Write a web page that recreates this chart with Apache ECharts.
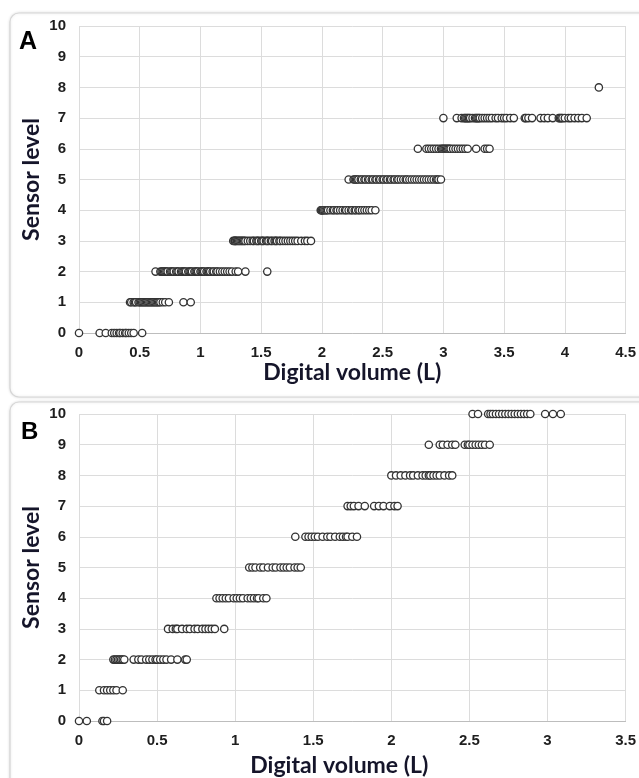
<!DOCTYPE html>
<html><head><meta charset="utf-8">
<script src="https://cdn.jsdelivr.net/npm/echarts@6/dist/echarts.min.js"></script>
<style>html,body{margin:0;padding:0;background:#fff}#c{width:639px;height:778px}</style>
</head><body><div id="c"></div>
<script>
// Panel A: digital volume (L) per sensor level
const a0 = [0, 0.17, 0.22, 0.27, 0.29, 0.31, 0.33, 0.34, 0.36, 0.38, 0.39, 0.41, 0.43, 0.45, 0.52];
const a1 = [0.42, 0.43, 0.45, 0.46, 0.47, 0.49, 0.50, 0.51, 0.52, 0.53, 0.54, 0.55, 0.56, 0.57, 0.58, 0.59, 0.60, 0.61, 0.62, 0.63, 0.64, 0.65, 0.66, 0.67, 0.69, 0.71, 0.74, 0.86, 0.92];
const a2 = [0.63, 0.67, 0.68, 0.69, 0.70, 0.71, 0.72, 0.73, 0.75, 0.76, 0.77, 0.78, 0.80, 0.81, 0.82, 0.84, 0.85, 0.86, 0.87, 0.88, 0.90, 0.91, 0.92, 0.93, 0.95, 0.96, 0.97, 0.98, 1.00, 1.01, 1.02, 1.03, 1.05, 1.06, 1.07, 1.08, 1.10, 1.11, 1.13, 1.14, 1.16, 1.18, 1.20, 1.22, 1.24, 1.26, 1.29, 1.31, 1.37, 1.55];
const a3 = [1.27, 1.28, 1.285, 1.29, 1.30, 1.31, 1.32, 1.33, 1.34, 1.35, 1.36, 1.37, 1.39, 1.41, 1.43, 1.44, 1.46, 1.47, 1.48, 1.50, 1.51, 1.52, 1.54, 1.55, 1.56, 1.58, 1.59, 1.61, 1.62, 1.63, 1.65, 1.66, 1.68, 1.70, 1.72, 1.74, 1.76, 1.78, 1.80, 1.83, 1.86, 1.88, 1.91];
const a4 = [1.99, 1.995, 2.00, 2.005, 2.01, 2.02, 2.03, 2.04, 2.05, 2.07, 2.09, 2.10, 2.12, 2.13, 2.15, 2.17, 2.19, 2.20, 2.22, 2.24, 2.25, 2.27, 2.28, 2.30, 2.31, 2.33, 2.35, 2.37, 2.39, 2.41, 2.44];
const a5 = [2.22, 2.26, 2.27, 2.28, 2.29, 2.30, 2.32, 2.33, 2.35, 2.36, 2.38, 2.39, 2.41, 2.42, 2.44, 2.45, 2.47, 2.48, 2.50, 2.51, 2.53, 2.54, 2.56, 2.57, 2.59, 2.60, 2.62, 2.63, 2.65, 2.67, 2.69, 2.70, 2.72, 2.74, 2.76, 2.78, 2.80, 2.82, 2.84, 2.86, 2.88, 2.90, 2.92, 2.94, 2.95, 2.96, 2.98];
const a6 = [2.79, 2.86, 2.88, 2.90, 2.92, 2.94, 2.96, 2.98, 2.99, 3.00, 3.01, 3.02, 3.03, 3.04, 3.05, 3.06, 3.08, 3.10, 3.12, 3.14, 3.16, 3.18, 3.20, 3.27, 3.34, 3.36, 3.38];
const a7 = [3.00, 3.11, 3.15, 3.17, 3.18, 3.19, 3.20, 3.21, 3.22, 3.24, 3.26, 3.27, 3.28, 3.29, 3.30, 3.32, 3.34, 3.36, 3.38, 3.40, 3.43, 3.45, 3.48, 3.50, 3.52, 3.55, 3.58, 3.67, 3.68, 3.70, 3.73, 3.80, 3.83, 3.86, 3.90, 3.95, 3.96, 3.97, 3.98, 4.00, 4.03, 4.05, 4.08, 4.11, 4.14, 4.18];
const a8 = [4.28];

// Panel B
const b0 = [0, 0.05, 0.15, 0.16, 0.18];
const b1 = [0.13, 0.16, 0.18, 0.20, 0.22, 0.24, 0.28];
const b2 = [0.22, 0.23, 0.24, 0.25, 0.26, 0.27, 0.28, 0.29, 0.35, 0.38, 0.40, 0.43, 0.45, 0.47, 0.49, 0.50, 0.52, 0.54, 0.56, 0.59, 0.63, 0.68, 0.69];
const b3 = [0.57, 0.60, 0.62, 0.63, 0.66, 0.69, 0.71, 0.74, 0.76, 0.79, 0.81, 0.83, 0.85, 0.87, 0.93];
const b4 = [0.88, 0.90, 0.92, 0.94, 0.96, 0.99, 1.01, 1.03, 1.05, 1.08, 1.10, 1.12, 1.14, 1.15, 1.18, 1.20];
const b5 = [1.09, 1.11, 1.13, 1.16, 1.18, 1.21, 1.24, 1.26, 1.29, 1.31, 1.33, 1.35, 1.38, 1.40, 1.42];
const b6 = [1.385, 1.45, 1.47, 1.49, 1.51, 1.53, 1.56, 1.59, 1.61, 1.64, 1.67, 1.69, 1.71, 1.72, 1.75, 1.78];
const b7 = [1.72, 1.74, 1.76, 1.79, 1.83, 1.89, 1.92, 1.95, 1.99, 2.02, 2.04];
const b8 = [2.00, 2.03, 2.06, 2.09, 2.12, 2.14, 2.17, 2.20, 2.22, 2.24, 2.25, 2.27, 2.29, 2.31, 2.34, 2.37, 2.39];
const b9 = [2.24, 2.31, 2.33, 2.36, 2.39, 2.41, 2.47, 2.49, 2.50, 2.52, 2.54, 2.56, 2.58, 2.60, 2.63];
const b10 = [2.52, 2.555, 2.62, 2.635, 2.65, 2.67, 2.69, 2.71, 2.73, 2.75, 2.77, 2.79, 2.81, 2.83, 2.85, 2.87, 2.89, 2.985, 3.035, 3.085];

const levelsA = [a0, a1, a2, a3, a4, a5, a6, a7, a8];
const levelsB = [b0, b1, b2, b3, b4, b5, b6, b7, b8, b9, b10];
const xTitle = 'Digital volume (L)';
const yTitle = 'Sensor level';

const toPts = levels => levels.flatMap((arr, lvl) => arr.map(v => [v, lvl]));

const tickFont = {fontFamily: 'Liberation Sans, Arial, sans-serif', fontWeight: 'bold', fontSize: 15, color: '#1e1e1e'};
const nameFont = {fontFamily: 'Lato, "Open Sans", sans-serif', fontWeight: 'bold', fontSize: 23, color: '#15152a'};
const gridLine = {show: true, lineStyle: {color: '#dcdcdc', width: 1}};

function xAx(gi, max, gap, pad) {
  return {type: 'value', gridIndex: gi, min: 0, max: max, interval: 0.5,
    name: xTitle, nameLocation: 'middle', nameGap: gap,
    nameTextStyle: Object.assign({padding: pad}, nameFont),
    axisLine: {show: true, lineStyle: {color: '#bdbdbd', width: 1}},
    axisTick: {show: false}, splitLine: gridLine,
    axisLabel: Object.assign({margin: 12}, tickFont)};
}
function yAx(gi) {
  return {type: 'value', gridIndex: gi, min: 0, max: 10, interval: 1,
    name: yTitle, nameLocation: 'middle', nameGap: 36, nameMoveOverlap: false,
    nameTextStyle: nameFont,
    axisLine: {show: false}, axisTick: {show: false}, splitLine: gridLine,
    axisLabel: Object.assign({margin: 13}, tickFont)};
}
const sym = {symbol: 'circle', symbolSize: 7.3, itemStyle: {color: '#fff', borderColor: '#333', borderWidth: 1.3, opacity: 1}};

const chart = echarts.init(document.getElementById('c'), null, {renderer: 'canvas'});
chart.setOption({
  backgroundColor: '#fff',
  animation: false,
  graphic: [
    {type: 'rect', z: -10, shape: {x: 10, y: 13, width: 640, height: 384, r: 9}, style: {fill: '#fff', stroke: '#d6d6d6', lineWidth: 1.2, shadowBlur: 3, shadowColor: 'rgba(0,0,0,0.12)'}},
    {type: 'rect', z: -10, shape: {x: 10, y: 402, width: 640, height: 400, r: 9}, style: {fill: '#fff', stroke: '#d6d6d6', lineWidth: 1.2, shadowBlur: 3, shadowColor: 'rgba(0,0,0,0.12)'}},
    {type: 'text', left: 19, top: 30, style: {text: 'A', font: 'bold 25px "Liberation Sans", Arial', fill: '#000'}},
    {type: 'text', left: 21, top: 420, style: {text: 'B', font: 'bold 24px "Liberation Sans", Arial', fill: '#000'}}
  ],
  grid: [
    {left: 79, top: 26, width: 548.5, height: 307},
    {left: 79, top: 414, width: 548.5, height: 308}
  ],
  xAxis: [xAx(0, 4.5, 28, [0, 0, 0, 0]), xAx(1, 3.5, 33, [0, 26, 0, 0])],
  yAxis: [yAx(0), yAx(1)],
  series: [
    Object.assign({type: 'scatter', xAxisIndex: 0, yAxisIndex: 0, data: toPts(levelsA)}, sym),
    Object.assign({type: 'scatter', xAxisIndex: 1, yAxisIndex: 1, data: toPts(levelsB)}, sym)
  ]
});
</script></body></html>
